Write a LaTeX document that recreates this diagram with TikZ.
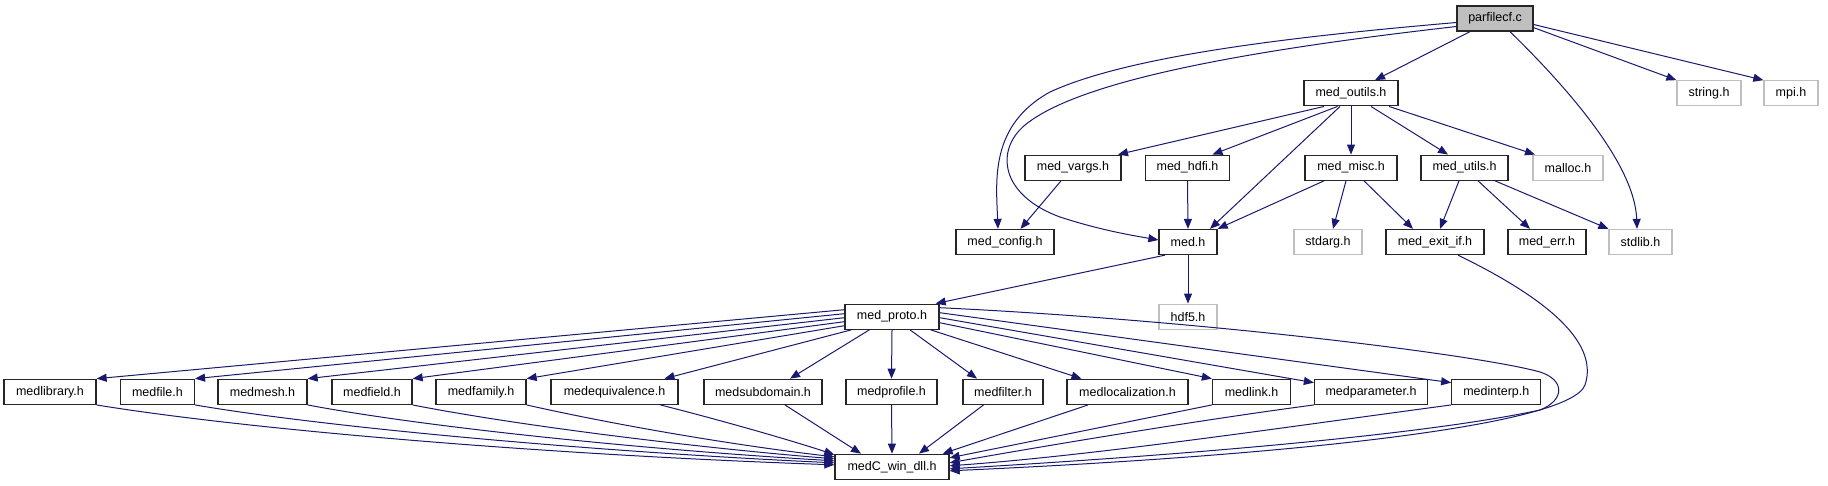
\documentclass[tikz,border=0pt]{standalone}
\usepackage{fontspec}
\setmainfont{Liberation Sans}
\usetikzlibrary{arrows.meta,calc}
\definecolor{edgecol}{RGB}{25,25,112}
\definecolor{sysgray}{RGB}{191,191,191}
\tikzset{
  hbox/.style={draw=black!85, line width=1.3pt, minimum height=25pt, inner sep=0pt, font=\fontsize{12.5}{15}\selectfont},
  sysbox/.style={hbox, draw=sysgray},
  rootbox/.style={hbox, fill=sysgray},
  dep/.style={draw=edgecol, line width=1pt, -{Triangle[length=10pt,width=8pt]}},
}
\begin{document}
\begin{tikzpicture}[x=1pt,y=-1pt]
\fill[white] (0,0) rectangle (1828,485);
\useasboundingbox (0,0) rectangle (1828,485);
% row 1
\node[rootbox, minimum width=76pt] (parfilecf) at (1495,18.5) {parfilecf.c};
% row 2
\node[hbox, minimum width=94pt] (medoutils) at (1351,93.3) {med\_outils.h};
\node[sysbox, minimum width=64pt] (string) at (1709,93.3) {string.h};
\node[sysbox, minimum width=54pt] (mpi) at (1791,93.3) {mpi.h};
% row 3
\node[hbox, minimum width=96pt] (medvargs) at (1073,167.7) {med\_vargs.h};
\node[hbox, minimum width=84pt] (medhdfi) at (1187.5,167.7) {med\_hdfi.h};
\node[hbox, minimum width=92pt] (medmisc) at (1351,167.7) {med\_misc.h};
\node[hbox, minimum width=87pt] (medutils) at (1464.5,167.7) {med\_utils.h};
\node[sysbox, minimum width=70pt] (malloc) at (1568,167.7) {malloc.h};
% row 4
\node[hbox, minimum width=98pt] (medconfig) at (1005,242) {med\_config.h};
\node[hbox, minimum width=58pt] (medh) at (1188,242) {med.h};
\node[sysbox, minimum width=68pt] (stdarg) at (1328,242) {stdarg.h};
\node[hbox, minimum width=98pt] (medexitif) at (1435,242) {med\_exit\_if.h};
\node[hbox, minimum width=78pt] (mederr) at (1547,242) {med\_err.h};
\node[sysbox, minimum width=63pt] (stdlib) at (1640.5,242) {stdlib.h};
% row 5
\node[hbox, minimum width=94pt] (medproto) at (892,316.7) {med\_proto.h};
\node[sysbox, minimum width=58pt] (hdf) at (1188,316.7) {hdf5.h};
% row 6
\node[hbox, minimum width=92pt] (medlibrary) at (50,391.8) {medlibrary.h};
\node[hbox, minimum width=74pt] (medfile) at (157.4,391.8) {medfile.h};
\node[hbox, minimum width=89pt] (medmesh) at (262.5,391.8) {medmesh.h};
\node[hbox, minimum width=80pt] (medfield) at (372,391.8) {medfield.h};
\node[hbox, minimum width=90pt] (medfamily) at (481,391.8) {medfamily.h};
\node[hbox, minimum width=127pt] (medequivalence) at (614.5,391.8) {medequivalence.h};
\node[hbox, minimum width=118pt] (medsubdomain) at (763,391.8) {medsubdomain.h};
\node[hbox, minimum width=91pt] (medprofile) at (891.5,391.8) {medprofile.h};
\node[hbox, minimum width=80pt] (medfilter) at (1003,391.8) {medfilter.h};
\node[hbox, minimum width=121pt] (medlocalization) at (1127.5,391.8) {medlocalization.h};
\node[hbox, minimum width=78pt] (medlink) at (1251.5,391.8) {medlink.h};
\node[hbox, minimum width=113pt] (medparameter) at (1371,391.8) {medparameter.h};
\node[hbox, minimum width=89pt] (medinterp) at (1496.3,391.8) {medinterp.h};
% row 7
\node[hbox, minimum width=114pt] (medC) at (892,466.8) {medC\_win\_dll.h};

% parfilecf.c edges
\draw[dep] ($(parfilecf.south)+(-25,0)$) -- ($(medoutils.north)+(24,0)$);
\draw[dep] ($(parfilecf.south east)+(0,-4)$) -- (string.north west);
\draw[dep] ($(parfilecf.east)+(0,6)$) -- (mpi.north west);
\draw[dep] ($(parfilecf.south)+(15,0)$) .. controls (1580,100) and (1635,170) .. ($(stdlib.north)+(-3.5,0)$);
\draw[dep] ($(parfilecf.west)+(0,4)$) .. controls (1300,36) and (1130,55) .. (1050,92)
   .. controls (990,125) and (996,180) .. ($(medconfig.north)+(-7,0)$);
\draw[dep] ($(parfilecf.west)+(0,8)$) .. controls (1250,50) and (1080,80) .. (1025,125)
   .. controls (995,150) and (1000,195) .. (1060,217) .. controls (1100,230) and (1130,235) .. ($(medh.west)+(0,-2)$);

% med_outils.h edges
\draw[dep] ($(medoutils.south)+(-27,0)$) -- ($(medvargs.north)+(45,0)$);
\draw[dep] ($(medoutils.south)+(-13.5,0)$) -- ($(medhdfi.north)+(25,0)$);
\draw[dep] ($(medoutils.south)+(-11,0)$) -- ($(medh.north)+(22,0)$);
\draw[dep] (medoutils.south) -- (medmisc.north);
\draw[dep] ($(medoutils.south)+(20,0)$) -- ($(medutils.north)+(-16.5,0)$);
\draw[dep] ($(medoutils.south)+(38,0)$) -- ($(malloc.north)+(-33,0)$);

% row 3 edges
\draw[dep] ($(medvargs.south)+(-12,0)$) -- ($(medconfig.north)+(15.5,0)$);
\draw[dep] (medhdfi.south) -- (medh.north);
\draw[dep] ($(medmisc.south)+(-27,0)$) -- (medh.north east);
\draw[dep] ($(medmisc.south)+(-5,0)$) -- ($(stdarg.north)+(5,0)$);
\draw[dep] ($(medmisc.south)+(13,0)$) -- ($(medexitif.north)+(-22,0)$);
\draw[dep] ($(medutils.south)+(-5.5,0)$) -- ($(medexitif.north)+(5,0)$);
\draw[dep] ($(medutils.south)+(13.5,0)$) -- ($(mederr.north)+(-17,0)$);
\draw[dep] ($(medutils.south)+(30.5,0)$) -- (stdlib.north west);

% med.h edges
\draw[dep] ($(medh.south)+(-23,0)$) -- ($(medproto.north east)+(-4,0)$);
\draw[dep] (medh.south) -- (hdf.north);

% med_exit_if.h -> medC_win_dll.h
\draw[dep] ($(medexitif.south)+(23,0)$) .. controls (1540,295) and (1600,340) .. (1585,385)
   .. controls (1570,425) and (1300,455) .. ($(medC.east)+(0,4)$);

% med_proto.h edges (left)
\draw[dep] ($(medproto.west)+(0,-7)$) -- (medlibrary.north east);
\draw[dep] ($(medproto.west)+(0,-3)$) -- (medfile.north east);
\draw[dep] ($(medproto.west)+(0,1)$) -- (medmesh.north east);
\draw[dep] ($(medproto.west)+(0,5)$) -- (medfield.north east);
\draw[dep] ($(medproto.west)+(0,9)$) -- (medfamily.north east);
\draw[dep] ($(medproto.south west)+(7,0)$) -- ($(medequivalence.north)+(50,0)$);
\draw[dep] ($(medproto.south west)+(25,0)$) -- ($(medsubdomain.north)+(27,0)$);
% med_proto.h edges (right)
\draw[dep] (medproto.south) -- (medprofile.north);
\draw[dep] ($(medproto.south)+(18,0)$) -- ($(medfilter.north)+(-26,0)$);
\draw[dep] ($(medproto.south east)+(-9,0)$) -- ($(medlocalization.north)+(-46,0)$);
\draw[dep] ($(medproto.east)+(0,6)$) -- (medlink.north west);
\draw[dep] ($(medproto.east)+(0,1)$) -- ($(medparameter.north west)+(0,4)$);
\draw[dep] ($(medproto.east)+(0,-4)$) -- ($(medinterp.north west)+(0,4)$);
\draw[dep] ($(medproto.east)+(0,-9)$) .. controls (1200,320) and (1480,355) .. (1540,372)
   .. controls (1565,380) and (1565,400) .. (1540,410) .. controls (1400,440) and (1100,460) .. ($(medC.east)+(0,2)$);

% row 6 -> medC_win_dll.h
\draw[dep] (medlibrary.south east) .. controls (250,430) and (550,455) .. ($(medC.west)+(0,-2)$);
\draw[dep] (medfile.south east) .. controls (330,428) and (600,452) .. ($(medC.west)+(0,-4)$);
\draw[dep] (medmesh.south east) .. controls (430,428) and (650,450) .. ($(medC.west)+(0,-6)$);
\draw[dep] (medfield.south east) .. controls (520,426) and (700,448) .. ($(medC.west)+(0,-8)$);
\draw[dep] (medfamily.south east) .. controls (620,426) and (740,446) .. ($(medC.west)+(0,-10)$);
\draw[dep] ($(medequivalence.south)+(46,0)$) .. controls (720,420) and (790,440) .. ($(medC.north west)+(0,1)$);
\draw[dep] ($(medsubdomain.south)+(22,0)$) -- ($(medC.north)+(-31,0)$);
\draw[dep] (medprofile.south) -- (medC.north);
\draw[dep] ($(medfilter.south)+(-19.5,0)$) -- ($(medC.north)+(27,0)$);
\draw[dep] ($(medlocalization.south)+(-39.5,0)$) -- ($(medC.north east)+(-7,0)$);
\draw[dep] (medlink.south west) -- ($(medC.east)+(0,-9)$);
\draw[dep] (medparameter.south west) .. controls (1200,420) and (1050,445) .. ($(medC.east)+(0,-4)$);
\draw[dep] (medinterp.south west) .. controls (1300,425) and (1100,455) .. ($(medC.east)+(0,-1)$);
\end{tikzpicture}
\end{document}
